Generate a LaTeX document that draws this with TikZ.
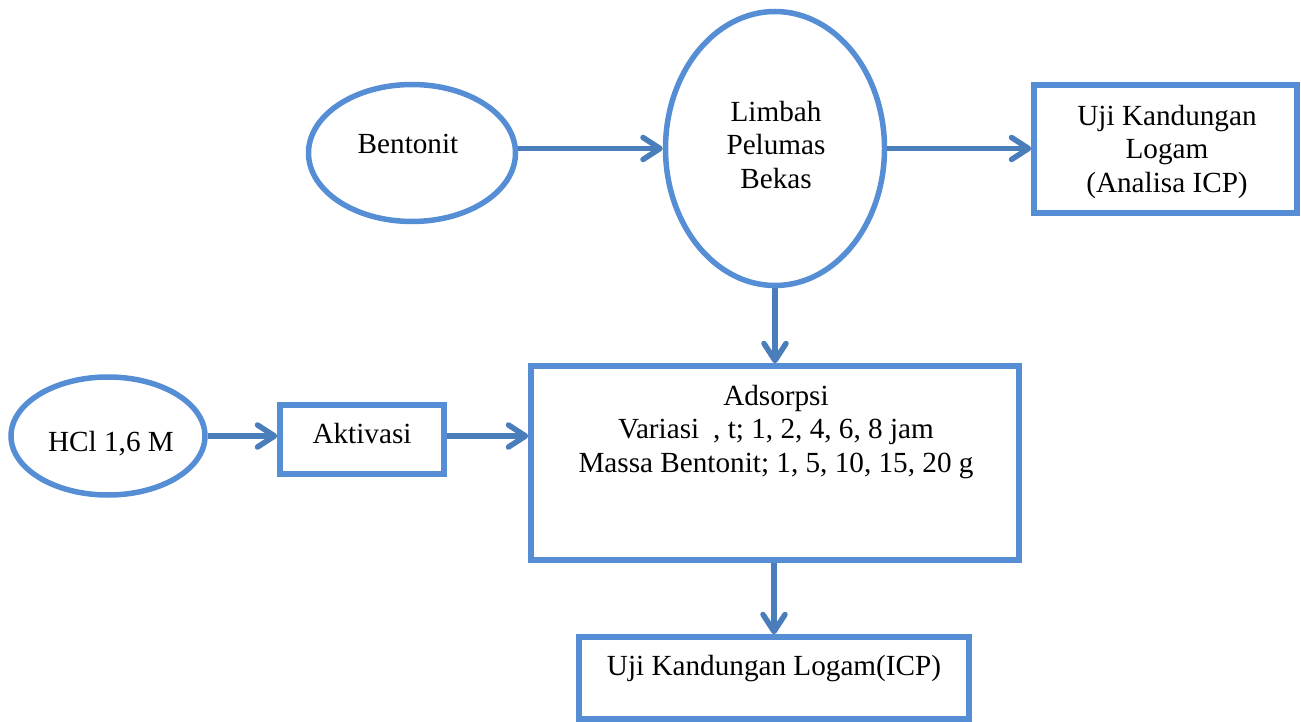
\documentclass[tikz,border=0pt]{standalone}
\usepackage{fontspec}
\setmainfont{Liberation Serif}
\usetikzlibrary{shapes.geometric,arrows.meta}
\definecolor{shapecol}{RGB}{85,142,213}
\definecolor{arrowcol}{RGB}{74,126,187}
\tikzset{
  oval/.style={ellipse,draw=shapecol,line width=5.5pt,inner sep=0pt},
  boxs/.style={rectangle,draw=shapecol,line width=5.5pt,inner sep=0pt},
  txt/.style={font=\fontsize{29.2}{33.5}\selectfont,inner sep=0pt,align=center},
  arr/.style={draw=arrowcol,line width=5.5pt,-{Straight Barb[length=17pt,width=22pt,round]}}
}
\begin{document}
\begin{tikzpicture}[x=1pt,y=-1pt]
\useasboundingbox (0,0) rectangle (1301,722);
% shapes
\node[oval,minimum width=207,minimum height=137] (bent) at (412,153) {};
\node[oval,minimum width=219,minimum height=274] (limbah) at (775,148.5) {};
\node[boxs,minimum width=263,minimum height=128] (uji) at (1165.5,149) {};
\node[oval,minimum width=194,minimum height=118] (hcl) at (108,436) {};
\node[boxs,minimum width=164,minimum height=69] (akt) at (362,439.5) {};
\node[boxs,minimum width=488,minimum height=194] (ads) at (775,463) {};
\node[boxs,minimum width=390,minimum height=82] (bot) at (774,678) {};
% texts
\node[txt,anchor=base] (bentT) at (408,154) {Bentonit};
\node[txt] (limbahT) at (776,148) {\strut Limbah\\\strut Pelumas\\\strut Bekas};
\node[txt] (ujiT) at (1167,152) {\strut Uji Kandungan\\\strut Logam\\\strut (Analisa ICP)};
\node[txt,anchor=base] (hclT) at (111,451) {HCl 1,6 M};
\node[txt,anchor=base] (aktT) at (362,443) {Aktivasi};
\node[txt] (adsT) at (776,432) {\strut Adsorpsi\\\strut Variasi\hspace{14pt}, t; 1, 2, 4, 6, 8 jam\\\strut Massa Bentonit; 1, 5, 10, 15, 20 g};
\node[txt,anchor=base] (botT) at (774,675) {Uji Kandungan Logam(ICP)};
% connectors
\draw[arr] (limbah.west -| bent.east) -- (limbah.west);
\draw[arr] (limbah.east) -- (limbah.east -| uji.west);
\draw[arr] (limbah.south) -- (limbah.south |- ads.north);
\draw[arr] (hcl.east) -- (hcl.east -| akt.west);
\draw[arr] (hcl.east -| akt.east) -- (hcl.east -| ads.west);
\draw[arr] (bot.north |- ads.south) -- (bot.north);
\end{tikzpicture}
\end{document}
